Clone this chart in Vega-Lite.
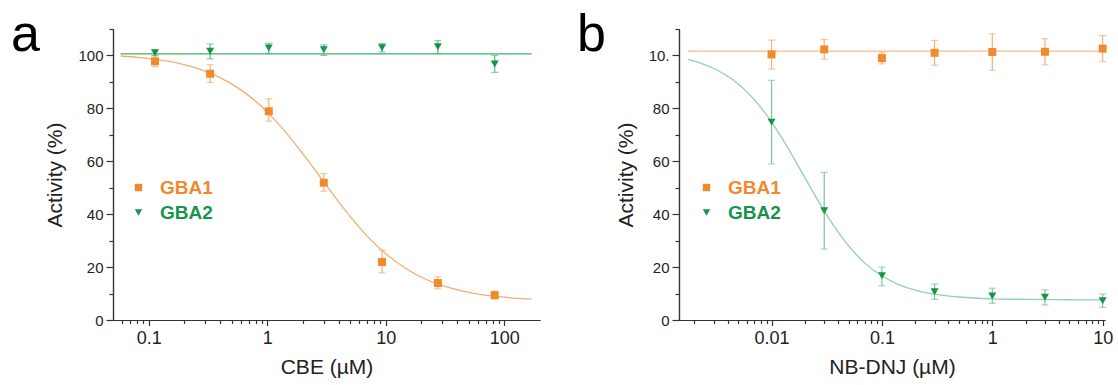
{
  "$schema": "https://vega.github.io/schema/vega-lite/v6.json",
  "background": "white",
  "padding": {"left": 11, "top": 9, "right": 5, "bottom": 5},
  "spacing": 139,
  "bounds": "flush",
  "datasets": {
    "a_pts": [
      {"conc": 0.113, "act": 97.8, "lo": 95.8, "hi": 99.8, "enzyme": "GBA1"},
      {"conc": 0.33, "act": 93.1, "lo": 89.8, "hi": 96.5, "enzyme": "GBA1"},
      {"conc": 1.03, "act": 78.9, "lo": 75.2, "hi": 83.6, "enzyme": "GBA1"},
      {"conc": 3.0, "act": 51.9, "lo": 48.7, "hi": 55.3, "enzyme": "GBA1"},
      {"conc": 9.3, "act": 21.9, "lo": 17.8, "hi": 26.4, "enzyme": "GBA1"},
      {"conc": 27.5, "act": 14.0, "lo": 11.8, "hi": 16.3, "enzyme": "GBA1"},
      {"conc": 83, "act": 9.4, "lo": 7.9, "hi": 10.8, "enzyme": "GBA1"},
      {"conc": 0.113, "act": 101.0, "lo": 100.0, "hi": 102.0, "enzyme": "GBA2"},
      {"conc": 0.33, "act": 101.6, "lo": 98.7, "hi": 104.3, "enzyme": "GBA2"},
      {"conc": 1.03, "act": 102.8, "lo": 100.8, "hi": 104.6, "enzyme": "GBA2"},
      {"conc": 3.0, "act": 102.2, "lo": 100.0, "hi": 104.0, "enzyme": "GBA2"},
      {"conc": 9.3, "act": 102.9, "lo": 101.3, "hi": 104.5, "enzyme": "GBA2"},
      {"conc": 27.5, "act": 103.3, "lo": 100.8, "hi": 105.6, "enzyme": "GBA2"},
      {"conc": 83, "act": 96.8, "lo": 93.6, "hi": 100.0, "enzyme": "GBA2"}
    ],
    "a_c1": [
      {"conc": 0.058, "act": 99.8}, {"conc": 0.08, "act": 99.3}, {"conc": 0.12, "act": 98.4},
      {"conc": 0.18, "act": 97.0}, {"conc": 0.27, "act": 94.8}, {"conc": 0.4, "act": 91.6},
      {"conc": 0.6, "act": 87.0}, {"conc": 0.9, "act": 80.6}, {"conc": 1.3, "act": 73.2},
      {"conc": 2, "act": 62.8}, {"conc": 3, "act": 52.2}, {"conc": 4.5, "act": 41.7},
      {"conc": 7, "act": 31.6}, {"conc": 10, "act": 25.0}, {"conc": 15, "act": 19.3},
      {"conc": 22, "act": 15.3}, {"conc": 35, "act": 12.1}, {"conc": 55, "act": 10.1},
      {"conc": 90, "act": 8.8}, {"conc": 170, "act": 7.9}
    ],
    "a_c2": [
      {"conc": 0.058, "act": 100.6}, {"conc": 170, "act": 100.6}
    ],
    "b_pts": [
      {"conc": 0.01, "act": 100.4, "lo": 94.9, "hi": 105.8, "enzyme": "GBA1"},
      {"conc": 0.03, "act": 102.3, "lo": 98.6, "hi": 106.0, "enzyme": "GBA1"},
      {"conc": 0.1, "act": 99.0, "lo": 96.8, "hi": 101.2, "enzyme": "GBA1"},
      {"conc": 0.3, "act": 101.0, "lo": 96.3, "hi": 105.7, "enzyme": "GBA1"},
      {"conc": 1, "act": 101.3, "lo": 94.4, "hi": 108.2, "enzyme": "GBA1"},
      {"conc": 3, "act": 101.4, "lo": 96.5, "hi": 106.3, "enzyme": "GBA1"},
      {"conc": 10, "act": 102.6, "lo": 97.7, "hi": 107.5, "enzyme": "GBA1"},
      {"conc": 0.01, "act": 74.8, "lo": 59.0, "hi": 90.6, "enzyme": "GBA2"},
      {"conc": 0.03, "act": 41.3, "lo": 26.8, "hi": 55.8, "enzyme": "GBA2"},
      {"conc": 0.1, "act": 16.7, "lo": 12.9, "hi": 20.0, "enzyme": "GBA2"},
      {"conc": 0.3, "act": 10.7, "lo": 7.8, "hi": 13.6, "enzyme": "GBA2"},
      {"conc": 1, "act": 9.1, "lo": 6.3, "hi": 12.0, "enzyme": "GBA2"},
      {"conc": 3, "act": 8.6, "lo": 5.7, "hi": 11.4, "enzyme": "GBA2"},
      {"conc": 10, "act": 7.3, "lo": 4.8, "hi": 9.8, "enzyme": "GBA2"}
    ],
    "b_c1": [
      {"conc": 0.00175, "act": 101.6}, {"conc": 10.3, "act": 101.6}
    ],
    "b_c2": [
      {"conc": 0.00175, "act": 98.5}, {"conc": 0.0022, "act": 97.3}, {"conc": 0.0032, "act": 94.5},
      {"conc": 0.0045, "act": 90.7}, {"conc": 0.0065, "act": 84.7}, {"conc": 0.009, "act": 77.5},
      {"conc": 0.012, "act": 69.8}, {"conc": 0.016, "act": 61.0}, {"conc": 0.021, "act": 52.3},
      {"conc": 0.028, "act": 43.3}, {"conc": 0.037, "act": 35.3}, {"conc": 0.05, "act": 28.0},
      {"conc": 0.07, "act": 21.5}, {"conc": 0.1, "act": 16.7}, {"conc": 0.14, "act": 13.5},
      {"conc": 0.2, "act": 11.3}, {"conc": 0.3, "act": 9.8}, {"conc": 0.5, "act": 8.7},
      {"conc": 1, "act": 8.0}, {"conc": 2, "act": 7.8}, {"conc": 5, "act": 7.65},
      {"conc": 10.2, "act": 7.6}
    ]
  },
  "hconcat": [
    {
      "width": 427,
      "height": 291,
      "title": {"text": "a", "anchor": "start", "frame": "group", "fontSize": 52, "fontWeight": "normal", "color": "#000000", "dx": -102, "dy": 75, "offset": 0, "baseline": "alphabetic"},
      "layer": [
        {
          "data": {"name": "a_c1"},
          "mark": {"type": "line", "color": "#f2ae72", "strokeWidth": 1.3, "interpolate": "monotone"},
          "encoding": {
            "x": {"field": "conc", "type": "quantitative", "scale": {"type": "log", "domain": [0.05, 200], "nice": false},
                  "axis": {"orient": "bottom", "values": [0.06, 0.07, 0.08, 0.09, 0.2, 0.3, 0.4, 0.5, 0.6, 0.7, 0.8, 0.9, 2, 3, 4, 5, 6, 7, 8, 9, 20, 30, 40, 50, 60, 70, 80, 90], "labels": false, "tickSize": 3.5, "title": null}},
            "y": {"field": "act", "type": "quantitative", "scale": {"domain": [0, 110], "nice": false},
                  "axis": {"orient": "left", "values": [10, 30, 50, 70, 90, 110], "labels": false, "tickSize": 4, "title": null}}
          }
        },
        {
          "data": {"name": "a_c2"},
          "mark": {"type": "line", "color": "#3fae6e", "strokeWidth": 1.3},
          "encoding": {
            "x": {"field": "conc", "type": "quantitative", "scale": {"type": "log", "domain": [0.05, 200], "nice": false}, "axis": null},
            "y": {"field": "act", "type": "quantitative", "scale": {"domain": [0, 110], "nice": false}, "axis": null}
          }
        },
        {
          "data": {"name": "a_pts"},
          "transform": [{"filter": "datum.enzyme === 'GBA1'"}],
          "mark": {"type": "errorbar", "color": "#f2b07a", "thickness": 1.2, "ticks": {"size": 7}},
          "encoding": {
            "x": {"field": "conc", "type": "quantitative", "scale": {"type": "log", "domain": [0.05, 200], "nice": false}, "axis": null},
            "y": {"field": "lo", "type": "quantitative", "scale": {"domain": [0, 110], "nice": false}, "axis": null, "title": null},
            "y2": {"field": "hi"}
          }
        },
        {
          "data": {"name": "a_pts"},
          "transform": [{"filter": "datum.enzyme === 'GBA2'"}],
          "mark": {"type": "errorbar", "color": "#5cb884", "thickness": 1.2, "ticks": {"size": 7}},
          "encoding": {
            "x": {"field": "conc", "type": "quantitative", "scale": {"type": "log", "domain": [0.05, 200], "nice": false}, "axis": null},
            "y": {"field": "lo", "type": "quantitative", "scale": {"domain": [0, 110], "nice": false}, "axis": null, "title": null},
            "y2": {"field": "hi"}
          }
        },
        {
          "data": {"name": "a_pts"},
          "mark": {"type": "point", "filled": true, "size": 64, "opacity": 1},
          "encoding": {
            "x": {"field": "conc", "type": "quantitative", "scale": {"type": "log", "domain": [0.05, 200], "nice": false},
                  "axis": {"orient": "bottom", "values": [0.1, 1, 10, 100], "format": "~g", "tickSize": 5.5, "labelFontSize": 18, "labelPadding": 4, "labelFlush": false, "labelOverlap": false, "title": "CBE (µM)", "titleFontSize": 21, "titlePadding": 9}},
            "y": {"field": "act", "type": "quantitative", "scale": {"domain": [0, 110], "nice": false},
                  "axis": {"orient": "left", "values": [0, 20, 40, 60, 80, 100], "tickSize": 7, "labelFontSize": 15, "labelPadding": 3, "labelFlush": false, "labelOverlap": false, "title": "Activity (%)", "titleFontSize": 21, "titlePadding": 12}},
            "color": {"field": "enzyme", "type": "nominal", "scale": {"domain": ["GBA1", "GBA2"], "range": ["#f08a2c", "#17944a"]},
                      "legend": {"title": null, "orient": "none", "legendX": 16, "legendY": 149, "padding": 0, "labelFontSize": 19, "labelFontWeight": "bold", "labelOffset": 12, "rowPadding": 5, "symbolSize": 55, "symbolStrokeWidth": 0,
                                 "labelColor": {"expr": "datum.value === 'GBA1' ? '#f08a2c' : '#17944a'"}}},
            "shape": {"field": "enzyme", "type": "nominal", "scale": {"domain": ["GBA1", "GBA2"], "range": ["square", "triangle-down"]},
                      "legend": {"title": null, "orient": "none", "legendX": 16, "legendY": 149, "padding": 0, "labelFontSize": 19, "labelFontWeight": "bold", "labelOffset": 12, "rowPadding": 5, "symbolSize": 55, "symbolStrokeWidth": 0,
                                 "labelColor": {"expr": "datum.value === 'GBA1' ? '#f08a2c' : '#17944a'"}}}
          }
        }
      ],
      "resolve": {"axis": {"x": "independent", "y": "independent"}}
    },
    {
      "width": 426,
      "height": 291,
      "title": {"text": "b", "anchor": "start", "frame": "group", "fontSize": 52, "fontWeight": "normal", "color": "#000000", "dx": -102, "dy": 75, "offset": 0, "baseline": "alphabetic"},
      "layer": [
        {
          "data": {"name": "b_c1"},
          "mark": {"type": "line", "color": "#f5bd8a", "strokeWidth": 1.3},
          "encoding": {
            "x": {"field": "conc", "type": "quantitative", "scale": {"type": "log", "domain": [0.00145, 10.5], "nice": false},
                  "axis": {"orient": "bottom", "values": [0.002, 0.003, 0.004, 0.005, 0.006, 0.007, 0.008, 0.009, 0.02, 0.03, 0.04, 0.05, 0.06, 0.07, 0.08, 0.09, 0.2, 0.3, 0.4, 0.5, 0.6, 0.7, 0.8, 0.9, 2, 3, 4, 5, 6, 7, 8, 9], "labels": false, "tickSize": 3.5, "title": null}},
            "y": {"field": "act", "type": "quantitative", "scale": {"domain": [0, 110], "nice": false},
                  "axis": {"orient": "left", "values": [10, 30, 50, 70, 90, 110], "labels": false, "tickSize": 4, "title": null}}
          }
        },
        {
          "data": {"name": "b_c2"},
          "mark": {"type": "line", "color": "#92d0b2", "strokeWidth": 1.3, "interpolate": "monotone"},
          "encoding": {
            "x": {"field": "conc", "type": "quantitative", "scale": {"type": "log", "domain": [0.00145, 10.5], "nice": false}, "axis": null},
            "y": {"field": "act", "type": "quantitative", "scale": {"domain": [0, 110], "nice": false}, "axis": null}
          }
        },
        {
          "data": {"name": "b_pts"},
          "transform": [{"filter": "datum.enzyme === 'GBA1'"}],
          "mark": {"type": "errorbar", "color": "#f2b07a", "thickness": 1.2, "ticks": {"size": 7}},
          "encoding": {
            "x": {"field": "conc", "type": "quantitative", "scale": {"type": "log", "domain": [0.00145, 10.5], "nice": false}, "axis": null},
            "y": {"field": "lo", "type": "quantitative", "scale": {"domain": [0, 110], "nice": false}, "axis": null, "title": null},
            "y2": {"field": "hi"}
          }
        },
        {
          "data": {"name": "b_pts"},
          "transform": [{"filter": "datum.enzyme === 'GBA2'"}],
          "mark": {"type": "errorbar", "color": "#7cc49c", "thickness": 1.2, "ticks": {"size": 7}},
          "encoding": {
            "x": {"field": "conc", "type": "quantitative", "scale": {"type": "log", "domain": [0.00145, 10.5], "nice": false}, "axis": null},
            "y": {"field": "lo", "type": "quantitative", "scale": {"domain": [0, 110], "nice": false}, "axis": null, "title": null},
            "y2": {"field": "hi"}
          }
        },
        {
          "data": {"name": "b_pts"},
          "mark": {"type": "point", "filled": true, "size": 64, "opacity": 1},
          "encoding": {
            "x": {"field": "conc", "type": "quantitative", "scale": {"type": "log", "domain": [0.00145, 10.5], "nice": false},
                  "axis": {"orient": "bottom", "values": [0.01, 0.1, 1, 10], "format": "~g", "tickSize": 5.5, "labelFontSize": 18, "labelPadding": 4, "labelFlush": false, "labelOverlap": false, "title": "NB-DNJ (µM)", "titleFontSize": 21, "titlePadding": 9}},
            "y": {"field": "act", "type": "quantitative", "scale": {"domain": [0, 110], "nice": false},
                  "axis": {"orient": "left", "values": [0, 20, 40, 60, 80, 100], "labelExpr": "datum.value == 100 ? '10.' : datum.label", "tickSize": 7, "labelFontSize": 15, "labelPadding": 3, "labelFlush": false, "labelOverlap": false, "title": "Activity (%)", "titleFontSize": 21, "titlePadding": 12}},
            "color": {"field": "enzyme", "type": "nominal", "scale": {"domain": ["GBA1", "GBA2"], "range": ["#f08a2c", "#17944a"]},
                      "legend": {"title": null, "orient": "none", "legendX": 18, "legendY": 149, "padding": 0, "labelFontSize": 19, "labelFontWeight": "bold", "labelOffset": 12, "rowPadding": 5, "symbolSize": 55, "symbolStrokeWidth": 0,
                                 "labelColor": {"expr": "datum.value === 'GBA1' ? '#f08a2c' : '#17944a'"}}},
            "shape": {"field": "enzyme", "type": "nominal", "scale": {"domain": ["GBA1", "GBA2"], "range": ["square", "triangle-down"]},
                      "legend": {"title": null, "orient": "none", "legendX": 18, "legendY": 149, "padding": 0, "labelFontSize": 19, "labelFontWeight": "bold", "labelOffset": 12, "rowPadding": 5, "symbolSize": 55, "symbolStrokeWidth": 0,
                                 "labelColor": {"expr": "datum.value === 'GBA1' ? '#f08a2c' : '#17944a'"}}}
          }
        }
      ],
      "resolve": {"axis": {"x": "independent", "y": "independent"}}
    }
  ],
  "resolve": {
    "scale": {"x": "independent", "y": "independent", "color": "independent", "shape": "independent"},
    "legend": {"color": "independent", "shape": "independent"},
    "axis": {"x": "independent", "y": "independent"}
  },
  "config": {
    "view": {"stroke": null},
    "font": "Liberation Sans",
    "axis": {"grid": false, "domainColor": "#333333", "tickColor": "#333333", "labelColor": "#222222", "titleColor": "#222222", "titleFontWeight": "normal", "domainWidth": 1.2, "tickWidth": 1.2, "labelFont": "Liberation Sans", "titleFont": "Liberation Sans"},
    "legend": {"labelFont": "Liberation Sans"}
  }
}
